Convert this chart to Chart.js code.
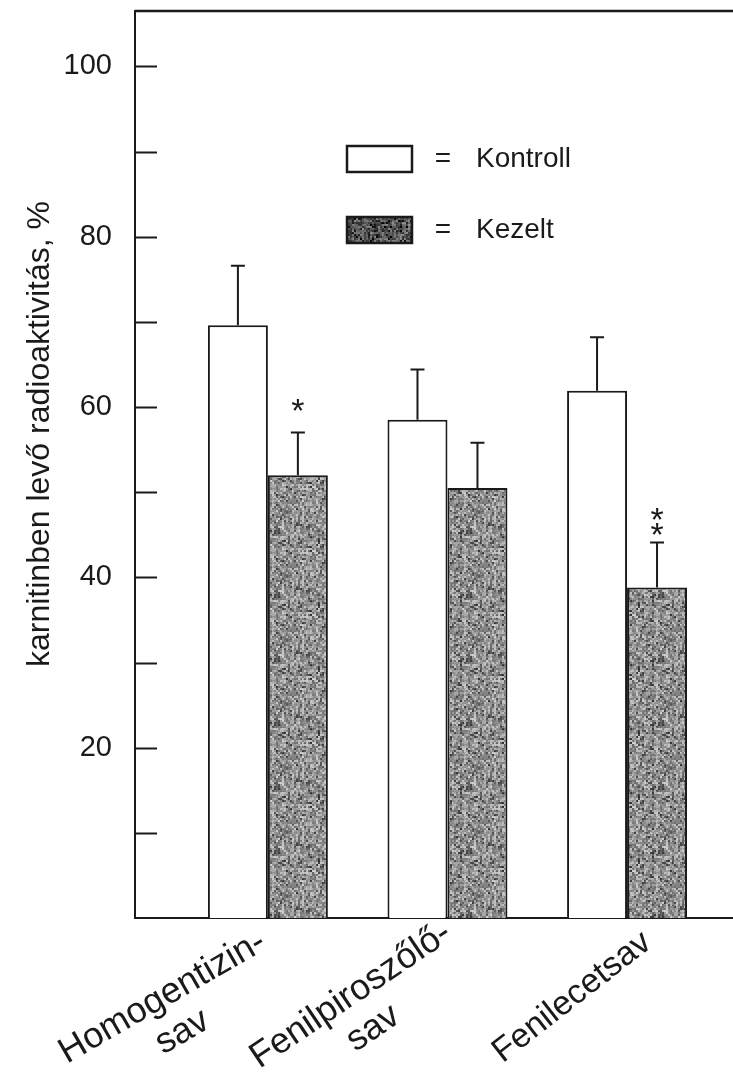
<!DOCTYPE html>
<html>
<head>
<meta charset="utf-8">
<script src="https://cdn.jsdelivr.net/npm/chart.js@4.4.1/dist/chart.umd.min.js"></script>
<style>
html,body{margin:0;padding:0;background:#fff;}
canvas{display:block;}
</style>
</head>
<body>
<canvas id="c" width="733" height="1077"></canvas>
<script>
// ---- data ----
const categories = [['Homogentizin-', 'sav'], ['Fenilpiroszőlő-', 'sav'], ['Fenilecetsav']];
const seriesNames = ['Kontroll', 'Kezelt'];
const kontroll = [69.6, 58.5, 61.9];
const kezelt = [52.0, 50.5, 38.8];
const kontrollErr = [7.0, 5.9, 6.3];
const kezeltErr = [5.0, 5.3, 5.3];
const kezeltSig = ['*', '', '**'];
const yTicks = [0, 10, 20, 30, 40, 50, 60, 70, 80, 90, 100];
const yTickLabels = ['', '', '20', '', '40', '', '60', '', '80', '', '100'];
const yTitle = 'karnitinben levő radioaktivitás, %';

// ---- layout / style constants ----
const FONT = '"Liberation Sans", Arial, Helvetica, sans-serif';
const INK = '#1a1a1a';
// dx from group centre, dy below axis, angle, font size
const labelAnchor = [[0, 30, 30, 36], [6, 20, 34, 36], [26, 28, 38, 34]];

const canvas = document.getElementById('c');
const ctx = canvas.getContext('2d');

function speckle(base, spread, darkAmt, seed) {
  const n = 64, c = document.createElement('canvas');
  c.width = c.height = n;
  const g = c.getContext('2d');
  const img = g.createImageData(n, n);
  let s = seed >>> 0;
  const next = () => { s = (Math.imul(s, 1664525) + 1013904223) >>> 0; return s / 4294967296; };
  const cell = [];
  for (let j = 0; j < n / 2; j++) for (let i = 0; i < n / 2; i++) {
    let v = base + (next() - 0.5) * spread;
    if (next() < 0.25) v -= darkAmt;
    cell.push(Math.max(0, Math.min(255, v)));
  }
  for (let y = 0; y < n; y++) for (let x = 0; x < n; x++) {
    let v = cell[(y >> 1) * (n / 2) + (x >> 1)] + (next() - 0.5) * 30;
    v = Math.max(0, Math.min(255, v));
    const k = (y * n + x) * 4;
    img.data[k] = img.data[k + 1] = img.data[k + 2] = v;
    img.data[k + 3] = 255;
  }
  g.putImageData(img, 0, 0);
  return ctx.createPattern(c, 'repeat');
}
const barPattern = speckle(158, 90, 60, 7);
const legendPattern = speckle(95, 90, 55, 11);

const decor = {
  id: 'decor',
  afterDatasetsDraw(chart) {
    const c = chart.ctx, ys = chart.scales.y;
    c.save();
    c.strokeStyle = INK; c.lineWidth = 2;
    chart.data.datasets.forEach((ds, d) => {
      const meta = chart.getDatasetMeta(d);
      meta.data.forEach((bar, i) => {
        const top = ys.getPixelForValue(ds.data[i].y + ds.err[i]);
        c.beginPath();
        c.moveTo(bar.x, bar.y); c.lineTo(bar.x, top);
        c.moveTo(bar.x - 7, top); c.lineTo(bar.x + 7, top);
        c.stroke();
        const sig = ds.sig[i] || '';
        c.fillStyle = INK; c.font = '34px ' + FONT; c.textAlign = 'center'; c.textBaseline = 'alphabetic';
        for (let k = 0; k < sig.length; k++) {
          const cy = top - 30 + 15 * k;
          c.fillText('*', bar.x, cy + 19);
        }
      });
    });
    c.restore();
  },
  afterDraw(chart) {
    const c = chart.ctx, ys = chart.scales.y, xs = chart.scales.x, a = chart.chartArea;
    c.save();
    c.strokeStyle = INK; c.lineWidth = 2.5;
    // top frame line
    c.beginPath(); c.moveTo(a.left, a.top); c.lineTo(a.right, a.top); c.stroke();
    // inward tick marks
    c.lineWidth = 2;
    yTicks.forEach(v => {
      if (v === 0) return;
      const y = Math.round(ys.getPixelForValue(v)) + 0.5;
      c.beginPath(); c.moveTo(a.left, y); c.lineTo(a.left + 22, y); c.stroke();
    });
    // legend
    const lx = 347, lw = 65, lh = 26, rows = [146, 217];
    const fills = ['#ffffff', legendPattern];
    c.font = '28px ' + FONT; c.textBaseline = 'middle'; c.fillStyle = INK;
    seriesNames.forEach((name, k) => {
      c.fillStyle = fills[k];
      c.fillRect(lx, rows[k], lw, lh);
      c.strokeStyle = INK; c.lineWidth = 2.5;
      c.strokeRect(lx, rows[k], lw, lh);
      c.fillStyle = INK;
      c.textAlign = 'center';
      c.fillText('=', 443, rows[k] + lh / 2);
      c.textAlign = 'left';
      c.fillText(name, 476, rows[k] + lh / 2);
    });
    // category labels
    c.fillStyle = INK; c.textBaseline = 'alphabetic';
    categories.forEach((lines, i) => {
      const [dx, dy, ang, fs] = labelAnchor[i];
      const ax = xs.getPixelForValue(i + 1) + dx, ay = xs.top + dy;
      c.save();
      c.font = fs + 'px ' + FONT;
      c.translate(ax, ay); c.rotate(-ang * Math.PI / 180);
      const w1 = c.measureText(lines[0]).width;
      c.textAlign = 'center';
      lines.forEach((t, k) => c.fillText(t, -w1 / 2, k * 40));
      c.restore();
    });
    // y title
    c.save();
    c.font = '32px ' + FONT; c.fillStyle = INK; c.textAlign = 'center'; c.textBaseline = 'middle';
    c.translate(40, 434); c.rotate(-Math.PI / 2);
    c.fillText(yTitle, 0, 0);
    c.restore();
    c.restore();
  }
};

new Chart(ctx, {
  type: 'bar',
  data: {
    datasets: [
      { label: seriesNames[0], data: kontroll.map((v, i) => ({ x: i + 1, y: v })), err: kontrollErr, sig: [],
        backgroundColor: '#ffffff', borderColor: INK, borderWidth: 2, borderSkipped: 'start' },
      { label: seriesNames[1], data: kezelt.map((v, i) => ({ x: i + 1, y: v })), err: kezeltErr, sig: kezeltSig,
        backgroundColor: barPattern, borderColor: INK, borderWidth: 2, borderSkipped: 'start' }
    ]
  },
  options: {
    responsive: false, animation: false, devicePixelRatio: 1,
    layout: { padding: { top: 11, left: 0, right: 0, bottom: 0 } },
    datasets: { bar: { categoryPercentage: 0.668, barPercentage: 1 } },
    plugins: { legend: { display: false }, tooltip: { enabled: false } },
    scales: {
      x: {
        type: 'linear', min: 0.26, max: 3.59, offset: false, bounds: 'data',
        afterBuildTicks: s => { s.ticks = categories.map((_, i) => ({ value: i + 1 })); },
        grid: { display: false, drawTicks: false, offset: false },
        ticks: { display: false },
        border: { display: true, color: INK, width: 2 },
        afterFit: s => { s.height = 1077 - 918; s.paddingLeft = 0; s.paddingRight = 0; }
      },
      y: {
        min: 0, max: 106.5,
        afterBuildTicks: s => { s.ticks = yTicks.map(v => ({ value: v })); },
        grid: { display: false, drawTicks: false },
        border: { display: true, color: INK, width: 2 },
        ticks: {
          callback: v => yTickLabels[yTicks.indexOf(v)] ?? '',
          font: { family: FONT, size: 29 }, color: INK, padding: 23
        },
        afterFit: s => { s.width = 135; s.paddingTop = 0; s.paddingBottom = 0; }
      }
    }
  },
  plugins: [decor]
});
</script>
</body>
</html>
